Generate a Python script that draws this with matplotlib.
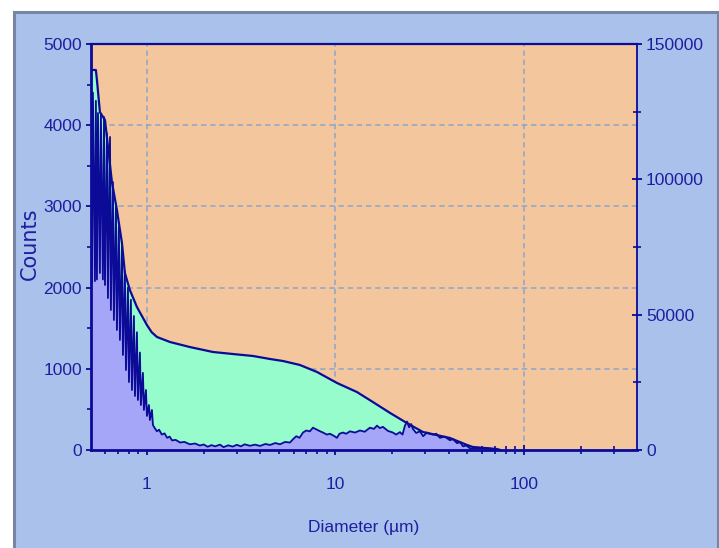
import numpy as np
import matplotlib
matplotlib.use('Agg')
from matplotlib import pyplot as plt
from matplotlib import ticker
from matplotlib.patches import Rectangle

panel = '#A9C1EB'
frame = '#7686A4'
plotbg = '#F3C69D'
green = '#97FCCB'
purple = '#A6A6F8'
navy = '#0B0B98'
textc = '#1E1EA0'
gridc = '#8CA6CA'

# smoothed distribution (upper envelope, filled green)
env_d = [0.505, 0.536, 0.543, 0.563, 0.599, 0.652, 0.693, 0.737, 0.764, 0.812,
         0.885, 1.0, 1.06, 1.13, 1.325, 1.69, 2.24, 2.86, 3.65, 4.49, 5.27,
         6.48, 7.98, 10.2, 13.0, 15.8, 19.5, 23.9, 29.1, 40.5, 49.9,
         53.6, 71.9, 75.0]
env_counts = [4680, 4680, 4557, 4162, 4064, 3300, 2956, 2549, 2180, 1970,
              1761, 1539, 1450, 1392, 1330, 1268, 1207, 1182, 1158, 1121, 1096,
              1047, 961, 825, 714, 591, 456, 333, 222, 148, 62,
              37, 12, 0]

# raw channel counts (filled purple)
raw_d = [0.505, 0.511, 0.517, 0.530, 0.536, 0.543, 0.550, 0.563, 0.570, 0.584,
         0.592, 0.599, 0.614, 0.621, 0.637, 0.644, 0.660, 0.668, 0.685, 0.693,
         0.710, 0.719, 0.737, 0.746, 0.764, 0.774, 0.793, 0.803, 0.822, 0.833,
         0.853, 0.864, 0.885, 0.896, 0.918, 0.929, 0.952, 0.964, 0.988, 1.000,
         1.025, 1.037, 1.063, 1.076, 1.10, 1.13, 1.16, 1.20, 1.24, 1.28,
         1.32, 1.36, 1.42, 1.50, 1.58, 1.69, 1.80, 1.91, 2.00, 2.10,
         2.20, 2.30, 2.44, 2.55, 2.70, 2.85, 3.00, 3.15, 3.30, 3.52,
         3.75, 3.98, 4.25, 4.50, 4.80, 5.08, 5.40, 5.74, 6.00, 6.20,
         6.45, 6.73, 7.00, 7.32, 7.60, 7.98, 8.30, 8.59, 9.00, 9.35,
         9.80, 10.19, 10.50, 10.96, 11.40, 11.94, 12.70, 13.49, 14.30, 15.24,
         16.00, 16.61, 17.20, 17.86, 19.00, 20.18, 21.00, 21.99, 22.70, 23.37,
         24.00, 24.60, 25.20, 25.77, 26.80, 28.07, 29.20, 30.58, 31.70, 32.90,
         34.30, 35.85, 38.00, 40.51, 42.00, 44.13, 46.00, 47.48, 49.50, 51.71,
         58.00, 66.00, 72.00]
raw_counts = [4655, 2057, 4400, 2080, 4300, 2100, 4150, 2180, 4126, 2100,
              4101, 2032, 3900, 1872, 3855, 1724, 3300, 1601, 3000, 1478,
              2750, 1355, 2500, 1170, 2200, 985, 2000, 837, 1850, 739,
              1650, 665, 1450, 616, 1200, 554, 950, 493, 739, 419,
              554, 369, 493, 308, 270, 230, 250, 190, 205, 150,
              165, 118, 125, 92, 100, 70, 80, 55, 68, 40,
              60, 45, 66, 35, 58, 42, 64, 45, 70, 52,
              66, 50, 74, 62, 86, 70, 99, 92, 140, 170,
              150, 215, 240, 230, 275, 250, 230, 215, 190, 200,
              175, 150, 200, 215, 200, 230, 215, 240, 225, 275,
              260, 300, 270, 285, 235, 215, 190, 220, 190, 300,
              350, 280, 320, 260, 210, 230, 170, 215, 200, 190,
              200, 150, 165, 120, 135, 85, 95, 45, 55, 20,
              22, 18, 0]

xticks = [1, 10, 100]
xticklabels = ['1', '10', '100']
left_ticks = [0, 1000, 2000, 3000, 4000, 5000]
left_labels = ['0', '1000', '2000', '3000', '4000', '5000']
right_ticks = [0, 50000, 100000, 150000]
right_labels = ['0', '50000', '100000', '150000']

plt.rcParams['font.family'] = ['Liberation Sans', 'DejaVu Sans']
fsize = 12.5

fig = plt.figure(figsize=(7.19, 5.48), dpi=100)
fig.patch.set_facecolor('white')
fig.add_artist(Rectangle((13.5/719, -0.02), 704/719, 1.02 - 11.5/548,
                         transform=fig.transFigure, facecolor=panel,
                         edgecolor=frame, linewidth=2.2, zorder=0))

ax = fig.add_axes([91/719, 98/548, 546/719, 406/548])
ax.set_facecolor(plotbg)
ax.set_axisbelow(True)

ax.fill_between(env_d, env_counts, 0, color=green, lw=0, zorder=1)
ax.fill_between(raw_d, raw_counts, 0, color=purple, lw=0, zorder=2)
ax.plot(env_d, env_counts, color=navy, lw=1.6, zorder=3)
ax.plot(raw_d, raw_counts, color=navy, lw=1.3, zorder=4)

ax.set_xscale('log')
ax.set_xlim(0.505, 398)
ax.set_ylim(0, 5000)
ax.xaxis.set_major_locator(ticker.FixedLocator(xticks))
ax.xaxis.set_major_formatter(ticker.FixedFormatter(xticklabels))
ax.xaxis.set_minor_locator(ticker.LogLocator(base=10, subs=np.arange(2, 10)))
ax.xaxis.set_minor_formatter(ticker.NullFormatter())
ax.set_yticks(left_ticks)
ax.set_yticklabels(left_labels)
ax.yaxis.set_minor_locator(ticker.MultipleLocator(500))

ax.grid(True, which='major', linestyle=(0, (3.5, 2.5)), color=gridc, lw=1.1)

for side in ['left', 'bottom']:
    ax.spines[side].set_color(navy)
    ax.spines[side].set_linewidth(2.0)
ax.spines['top'].set_color(navy)
ax.spines['top'].set_linewidth(1.6)
ax.spines['right'].set_visible(False)

ax.tick_params(axis='both', which='both', direction='inout', color=navy,
               labelcolor=textc, labelsize=fsize)
ax.tick_params(axis='both', which='major', length=7, width=1.3)
ax.tick_params(axis='both', which='minor', length=6, width=1.2)
ax.tick_params(axis='x', which='major', pad=16)
ax.tick_params(axis='y', which='major', pad=3)

ax.set_xlabel('Diameter (µm)', fontsize=fsize, color=textc, labelpad=20)
ax.set_ylabel('Counts', fontsize=15, color=textc, family='DejaVu Sans', va='center')
ax.yaxis.set_label_coords(-0.1117, 0.507)

ax2 = ax.twinx()
ax2.set_ylim(0, 150000)
ax2.set_yticks(right_ticks)
ax2.set_yticklabels(right_labels)
ax2.yaxis.set_minor_locator(ticker.MultipleLocator(25000))
for side in ['left', 'top', 'bottom']:
    ax2.spines[side].set_visible(False)
ax2.spines['right'].set_color(navy)
ax2.spines['right'].set_linewidth(1.3)
ax2.tick_params(axis='y', which='both', direction='inout', color=navy,
                labelcolor=textc, labelsize=fsize, pad=3)
ax2.tick_params(axis='y', which='major', length=7, width=1.3)
ax2.tick_params(axis='y', which='minor', length=6, width=1.2)

fig.savefig('out.png', dpi=100, facecolor='white')
